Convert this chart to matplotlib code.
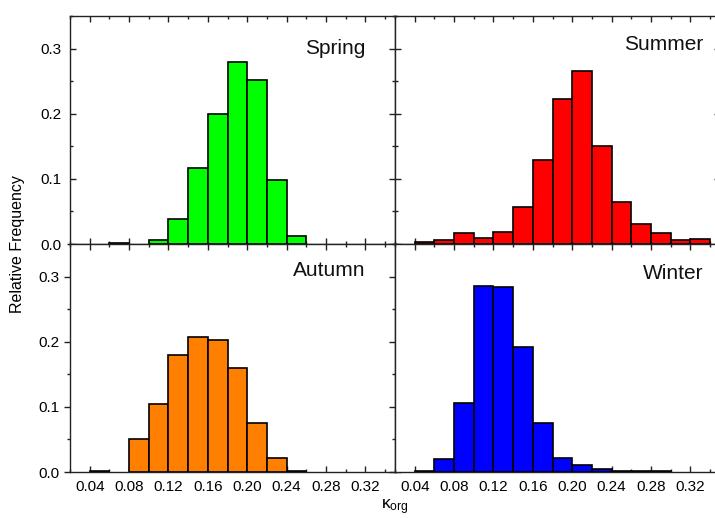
import numpy as np
import matplotlib
matplotlib.use("Agg")
import matplotlib.pyplot as plt
from matplotlib.ticker import MultipleLocator, FormatStrFormatter

plt.rcParams['font.family'] = ['Liberation Sans', 'DejaVu Sans']
plt.rcParams['mathtext.fontset'] = 'custom'
plt.rcParams['mathtext.rm'] = 'Liberation Sans'
plt.rcParams['mathtext.it'] = 'Liberation Sans:italic'

# Bin edges (kappa_org) and relative frequencies per season
bin_edges = [0.02, 0.04, 0.06, 0.08, 0.10, 0.12, 0.14, 0.16, 0.18,
             0.20, 0.22, 0.24, 0.26, 0.28, 0.30, 0.32, 0.34]
spring = [0, 0, 0.001, 0, 0.0067, 0.039, 0.116, 0.199, 0.279, 0.252,
          0.099, 0.012, 0, 0, 0, 0]
summer = [0, 0.0036, 0.0067, 0.0174, 0.0097, 0.018, 0.057, 0.1295, 0.222,
          0.265, 0.150, 0.0645, 0.031, 0.0164, 0.0067, 0.0072]
autumn = [0, 0.002, 0, 0.0507, 0.104, 0.179, 0.207, 0.202, 0.160, 0.0748,
          0.022, 0.001, 0, 0, 0, 0]
winter = [0, 0.001, 0.0195, 0.1065, 0.286, 0.284, 0.192, 0.0753, 0.021,
          0.0102, 0.004, 0.002, 0.001, 0.001, 0, 0]

season_names = ["Spring", "Summer", "Autumn", "Winter"]
season_data = [spring, summer, autumn, winter]
season_colors = ["#00FF00", "#FF0000", "#FF8000", "#0000FF"]

W, H = 715, 518
fig = plt.figure(figsize=(W / 100, H / 100), dpi=100)

def px_rect(x0, y0, x1, y1):
    return [x0 / W, 1 - y1 / H, (x1 - x0) / W, (y1 - y0) / H]

rects = [px_rect(70, 16, 395, 244), px_rect(395, 16, 720, 244),
         px_rect(70, 244, 395, 472), px_rect(395, 244, 720, 472)]
label_pos = [(0.3203, 0.2923), (0.3335, 0.2984), (0.3203, 0.301), (0.3335, 0.2965)]

edges = np.array(bin_edges)
lefts = edges[:-1]
widths = np.diff(edges)

for i, (name, vals, col, rect) in enumerate(zip(season_names, season_data, season_colors, rects)):
    ax = fig.add_axes(rect)
    v = np.array(vals, dtype=float)
    m = v > 0
    ax.bar(lefts[m], v[m], width=widths[m], align='edge', color=col,
           edgecolor='black', linewidth=1.2, zorder=2)
    ax.set_xlim(0.02, 0.35)
    ax.set_ylim(0, 0.35)
    ax.xaxis.set_major_locator(MultipleLocator(0.04))
    ax.xaxis.set_minor_locator(MultipleLocator(0.02))
    ax.yaxis.set_major_locator(MultipleLocator(0.1))
    ax.yaxis.set_minor_locator(MultipleLocator(0.05))
    ax.xaxis.set_major_formatter(FormatStrFormatter('%.2f'))
    ax.yaxis.set_major_formatter(FormatStrFormatter('%.1f'))
    top = i < 2
    left = i % 2 == 0
    ydir = 'in' if top else 'out'
    ax.tick_params(axis='x', which='both', direction='in', top=True, bottom=True,
                   labelbottom=not top, labelsize=11, pad=6, width=1, color='#222222')
    ax.tick_params(axis='y', which='both', direction=ydir, left=True, right=True,
                   labelleft=left, labelsize=11, pad=6 if top else 3, width=1, color='#222222')
    ax.tick_params(which='major', length=4.5)
    ax.tick_params(which='minor', length=2.5)
    for s in ax.spines.values():
        s.set_linewidth(1.0)
        s.set_color('#222222')
    ax.text(label_pos[i][0], label_pos[i][1], name, ha='right', va='baseline',
            fontsize=15, color='#111111')
    if not top:
        ticks = np.arange(0.04, 0.3401, 0.04)
        ax.set_xticks(ticks)

fig.text(18 / W, 1 - 244 / H, "Relative Frequency", rotation=90,
         ha='center', va='center', fontsize=11.5)
fig.text(395 / W, 1 - 509 / H, r"$\mathregular{\kappa_{org}}$",
         ha='center', va='baseline', fontsize=12.5)

fig.savefig("out.png", dpi=100)
